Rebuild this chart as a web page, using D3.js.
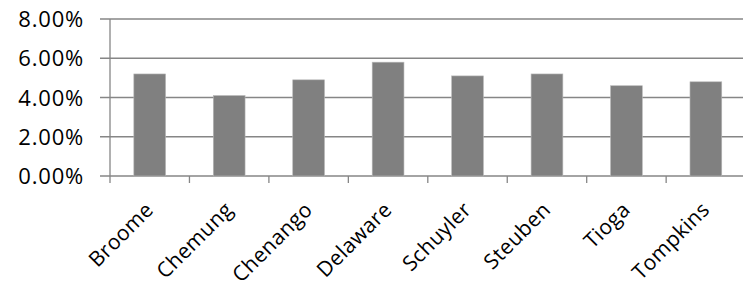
<!DOCTYPE html>
<html>
<head>
<meta charset="utf-8">
<script src="https://cdn.jsdelivr.net/npm/d3@7"></script>
<style>
  body { margin: 0; background: #fff; }
  text { font-family: "Open Sans", sans-serif; fill: #000; }
</style>
</head>
<body>
<div id="graphic"></div>
<script>
(function(d3){

    // Chart data
    let counties = ['Broome', 'Chemung', 'Chenango', 'Delaware', 'Schuyler', 'Steuben', 'Tioga', 'Tompkins'];
    let rates = [0.052, 0.041, 0.049, 0.058, 0.051, 0.052, 0.046, 0.048];
    let yTicks = [0, 0.02, 0.04, 0.06, 0.08];

    // Canvas size
    let width = 743, height = 287;

    // Plot area
    let left = 110, right = 745.6, top = 19, bottom = 176;

    let svg = d3.select('#graphic')
                .append('svg')
                .attr('width', width)
                .attr('height', height);

    let x = d3.scaleBand()
        .domain(counties)
        .range([left, right])
        .paddingInner(0.6)
        .paddingOuter(0.3);

    let y = d3.scaleLinear()
        .domain([0, 0.08])
        .range([bottom, top]);

    let gridColor = '#868686';

    // Gridlines with tick marks on the left
    svg.append('g')
        .selectAll('line')
        .data(yTicks)
        .join('line')
        .attr('x1', left - 10)
        .attr('x2', width)
        .attr('y1', d => y(d))
        .attr('y2', d => y(d))
        .attr('stroke', gridColor)
        .attr('stroke-width', 1.3);

    // Y tick labels
    svg.append('g')
        .selectAll('text')
        .data(yTicks)
        .join('text')
        .attr('x', 84)
        .attr('y', d => y(d) + 8)
        .attr('text-anchor', 'end')
        .style('font-size', '22px')
        .style('letter-spacing', '0.8px')
        .text(d => d3.format('.2%')(d));

    // Bars
    svg.append('g')
        .selectAll('rect')
        .data(counties)
        .join('rect')
        .attr('x', d => x(d))
        .attr('width', x.bandwidth())
        .attr('y', (d, i) => y(rates[i]))
        .attr('height', (d, i) => y(0) - y(rates[i]))
        .attr('fill', '#808080')
        .attr('stroke', '#b8b8b8')
        .attr('stroke-width', 0.6);

    // Vertical axis
    svg.append('line')
        .attr('x1', left).attr('x2', left)
        .attr('y1', top).attr('y2', bottom)
        .attr('stroke', gridColor)
        .attr('stroke-width', 1.3);

    // Category boundaries for the bottom tick marks
    let step = x.step();
    let boundaries = d3.range(counties.length).map(i => left + i * step);

    svg.append('g')
        .selectAll('line')
        .data(boundaries)
        .join('line')
        .attr('x1', d => d).attr('x2', d => d)
        .attr('y1', bottom).attr('y2', bottom + 7)
        .attr('stroke', gridColor)
        .attr('stroke-width', 1.3);

    // Rotated category labels
    svg.append('g')
        .selectAll('text')
        .data(counties)
        .join('text')
        .attr('text-anchor', 'end')
        .attr('transform', d => `translate(${x(d) + x.bandwidth() / 2 + 5} 211) rotate(-45)`)
        .style('font-size', '21px')
        .style('letter-spacing', '0.4px')
        .text(d => d);

})(window.d3);
</script>
</body>
</html>
